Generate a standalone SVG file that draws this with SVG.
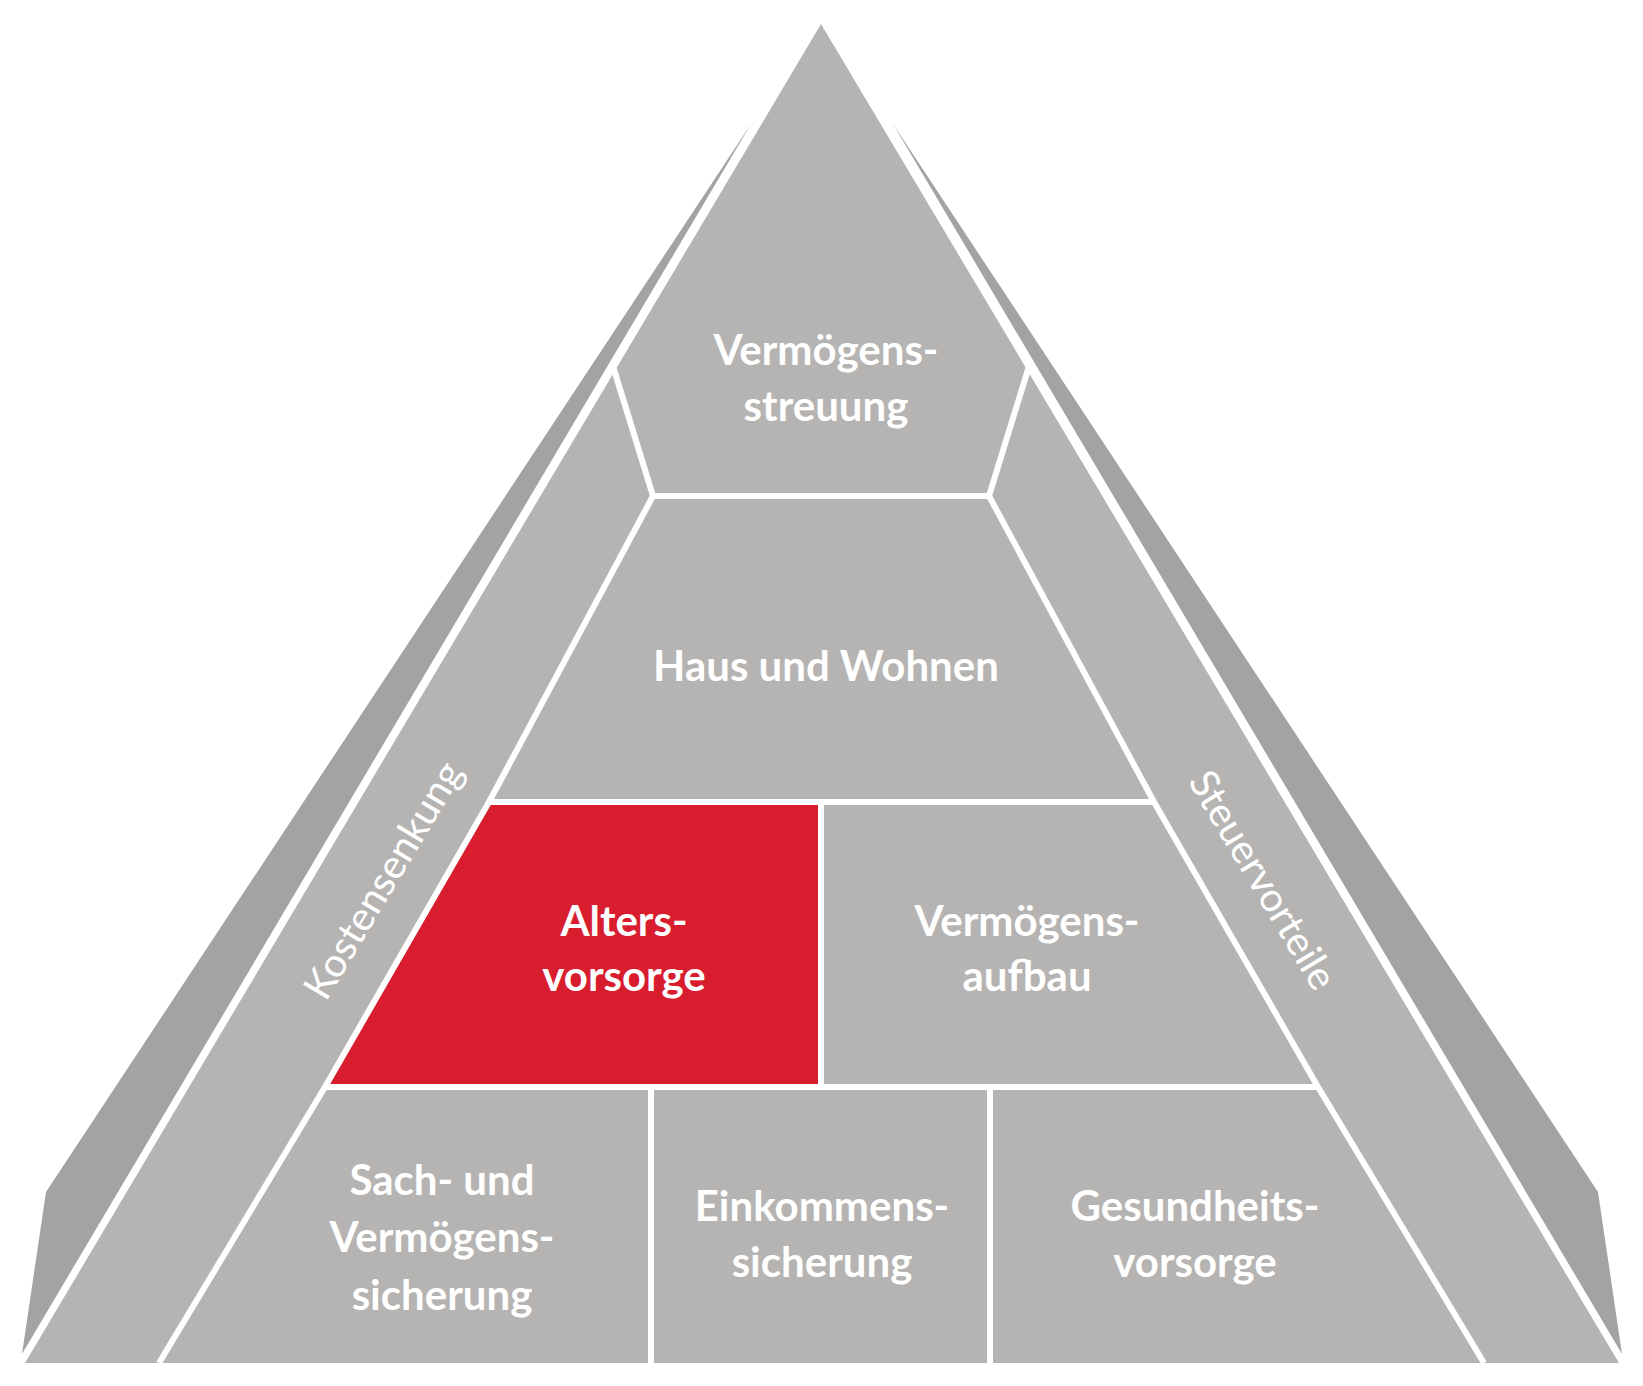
<svg xmlns="http://www.w3.org/2000/svg" width="1643" height="1386" viewBox="0 0 1643 1386">
<style>
.t{font-family:Lato,"Open Sans",sans-serif;font-weight:bold;font-size:42px;fill:#fff;text-anchor:middle}
.s{font-family:Lato,"Open Sans",sans-serif;font-size:40px;fill:#fff;text-anchor:middle}
.w{stroke:#fff;stroke-width:6;fill:none;stroke-linejoin:miter}
</style>
<rect width="1643" height="1386" fill="#fff"/>
<g id="sides" fill="#a4a3a1">
<polygon points="751,124 46,1192 22,1354"/>
<polygon points="893,124 1598,1192 1622,1354"/>
</g>
<g id="pyramid">
<polygon points="821,24 25,1363 1619,1363" fill="#b5b4b2"/>
<polygon id="alters-bg" points="489,802 821,802 821,1087 325,1087" fill="#d71d2e"/>
</g>
<g id="connectors" class="w">
<polyline points="612,363 653,496 989,496 1030,363"/>
<polyline points="653,496 489,802 325,1087 159,1363"/>
<polyline points="989,496 1154,802 1318,1087 1484,1363"/>
<line x1="489" y1="802" x2="1154" y2="802"/>
<line x1="325" y1="1087" x2="1318" y2="1087"/>
<line x1="821" y1="802" x2="821" y2="1087"/>
<line x1="651" y1="1087" x2="651" y2="1363"/>
<line x1="990" y1="1087" x2="990" y2="1363"/>
</g>
<g id="n1"><text class="t" x="826" y="365">Vermögens-</text><text class="t" x="826" y="421">streuung</text></g>
<g id="n2"><text class="t" x="826" y="681">Haus und Wohnen</text></g>
<g id="n3"><text class="t" x="624" y="936">Alters-</text><text class="t" x="624" y="991">vorsorge</text></g>
<g id="n4"><text class="t" x="1027" y="936">Vermögens-</text><text class="t" x="1027" y="991">aufbau</text></g>
<g id="n5"><text class="t" x="442" y="1195">Sach- und</text><text class="t" x="442" y="1252">Vermögens-</text><text class="t" x="442" y="1310">sicherung</text></g>
<g id="n6"><text class="t" x="822" y="1221">Einkommens-</text><text class="t" x="822" y="1277">sicherung</text></g>
<g id="n7"><text class="t" x="1195" y="1221">Gesundheits-</text><text class="t" x="1195" y="1277">vorsorge</text></g>
<g id="n8"><text class="s" transform="translate(383,880) rotate(-59)" y="14">Kostensenkung</text></g>
<g id="n9"><text class="s" transform="translate(1263,880) rotate(59)" y="14">Steuervorteile</text></g>
</svg>
